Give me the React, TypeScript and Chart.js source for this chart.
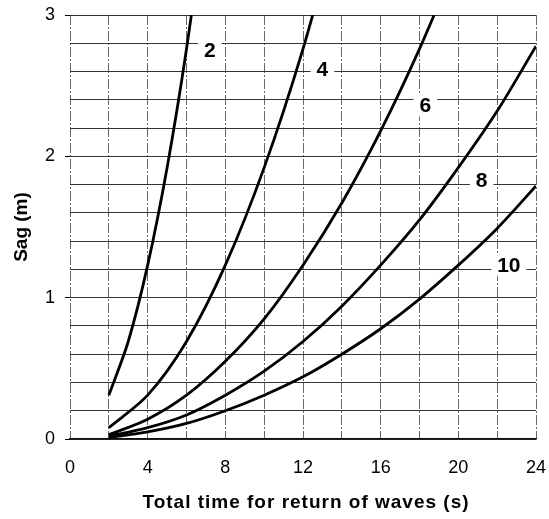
import React, { useEffect, useRef } from "react";
import { Chart, registerables } from "chart.js";

Chart.register(...registerables);

// Number of waves for each curve
const waveCounts = ["2", "4", "6", "8", "10"];

// Total time for return of waves (s) and sag (m)
const time2 = [2, 3, 4, 5, 6, 7];
const sag2 = [0.31, 0.69, 1.23, 1.92, 2.76, 3.76];

const time4 = [2, 4, 6, 8, 10, 12, 14];
const sag4 = [0.08, 0.31, 0.69, 1.23, 1.92, 2.76, 3.76];

const time6 = [2, 4, 6, 8, 10, 12, 14, 16, 18, 20];
const sag6 = [0.03, 0.14, 0.31, 0.55, 0.85, 1.23, 1.67, 2.18, 2.76, 3.41];

const time8 = [2, 4, 6, 8, 10, 12, 14, 16, 18, 20, 22, 24];
const sag8 = [0.02, 0.08, 0.17, 0.31, 0.48, 0.69, 0.94, 1.23, 1.55, 1.92, 2.32, 2.78];

const time10 = [2, 4, 6, 8, 10, 12, 14, 16, 18, 20, 22, 24];
const sag10 = [0.01, 0.05, 0.11, 0.2, 0.31, 0.44, 0.6, 0.78, 0.99, 1.23, 1.49, 1.79];

// Where each curve's label sits (data coordinates)
const labelTime = [7.2, 13.0, 18.3, 21.2, 22.6];
const labelSag = [2.75, 2.62, 2.36, 1.83, 1.23];

const xLabelEvery = 4;
const xTitle = "Total time for return of waves (s)";
const yTitle = "Sag (m)";

const FONT = "'Liberation Sans', Arial, Helvetica, sans-serif";

const seriesTimes = [time2, time4, time6, time8, time10];
const seriesSags = [sag2, sag4, sag6, sag8, sag10];

const decorPlugin = {
  id: "decor",
  afterDatasetsDraw(chart: any) {
    const { ctx, scales } = chart;
    ctx.save();
    ctx.font = `bold 21px ${FONT}`;
    ctx.textAlign = "center";
    ctx.textBaseline = "middle";
    waveCounts.forEach((lab, i) => {
      const x = scales.x.getPixelForValue(labelTime[i]);
      const y = scales.y.getPixelForValue(labelSag[i]);
      const w = ctx.measureText(lab).width;
      ctx.fillStyle = "#fff";
      ctx.fillRect(x - w / 2 - 6, y - 11, w + 12, 22);
      ctx.fillStyle = "#000";
      ctx.fillText(lab, x, y + 1);
    });
    ctx.restore();
  },
  afterDraw(chart: any) {
    const { ctx, chartArea } = chart;
    ctx.save();
    ctx.fillStyle = "#000";
    ctx.font = `bold 19px ${FONT}`;
    ctx.textAlign = "center";
    ctx.textBaseline = "middle";
    try { (ctx as any).letterSpacing = "1px"; } catch (e) {}
    ctx.fillText(xTitle, (chartArea.left + chartArea.right) / 2 + 3, 503);
    try { (ctx as any).letterSpacing = "0px"; } catch (e) {}
    ctx.translate(22, (chartArea.top + chartArea.bottom) / 2);
    ctx.rotate(-Math.PI / 2);
    ctx.fillText(yTitle, 0, 0);
    ctx.restore();
  },
};

const isInt = (v: number) => Math.abs(v - Math.round(v)) < 1e-6;

export default function App() {
  const ref = useRef<HTMLCanvasElement | null>(null);
  useEffect(() => {
    if (!ref.current) return;
    const chart = new Chart(ref.current, {
      type: "line",
      data: {
        datasets: waveCounts.map((n, i) => ({
          label: n,
          data: seriesTimes[i].map((t, j) => ({ x: t, y: seriesSags[i][j] })),
          borderColor: "#000",
          borderWidth: 2.8,
          pointRadius: 0,
          tension: 0.3,
          fill: false,
        })),
      },
      options: {
        animation: false,
        responsive: false,
        maintainAspectRatio: false,
        layout: { padding: { top: 15, right: 13, left: 0, bottom: 0 } },
        plugins: { legend: { display: false }, tooltip: { enabled: false } },
        scales: {
          x: {
            type: "linear",
            min: 0,
            max: 24,
            afterFit: (s: any) => { s.height = 80; s.paddingLeft = 0; s.paddingRight = 0; },
            ticks: {
              stepSize: 2,
              autoSkip: false,
              maxRotation: 0,
              padding: 18,
              color: "#000",
              font: { family: FONT, size: 18 },
              callback: (v: any) => (Math.round(v) % xLabelEvery === 0 ? String(v) : ""),
            },
            grid: {
              color: "#666",
              lineWidth: 1,
              drawTicks: false,
            },
            border: { display: true, color: "#111", width: 1.5, dash: [10, 2, 2, 2] },
          } as any,
          y: {
            type: "linear",
            min: 0,
            max: 3,
            afterFit: (s: any) => { s.width = 70; s.paddingTop = 0; s.paddingBottom = 0; },
            ticks: {
              stepSize: 0.2,
              autoSkip: false,
              padding: 10,
              color: "#000",
              font: { family: FONT, size: 18 },
              callback: (v: any) => (isInt(v) ? String(Math.round(v)) : ""),
            },
            grid: {
              color: "#333",
              lineWidth: 1,
              tickLength: 5,
              tickColor: (c: any) => (c.tick && isInt(c.tick.value) ? "#000" : "rgba(0,0,0,0)"),
            },
            border: { display: false },
          } as any,
        },
      },
      plugins: [decorPlugin],
    });
    return () => chart.destroy();
  }, []);
  return (
    <div style={{ position: "absolute", left: 0, top: 0, width: 549, height: 519, background: "#fff" }}>
      <canvas ref={ref} width={549} height={519} style={{ width: 549, height: 519, display: "block" }} />
    </div>
  );
}
